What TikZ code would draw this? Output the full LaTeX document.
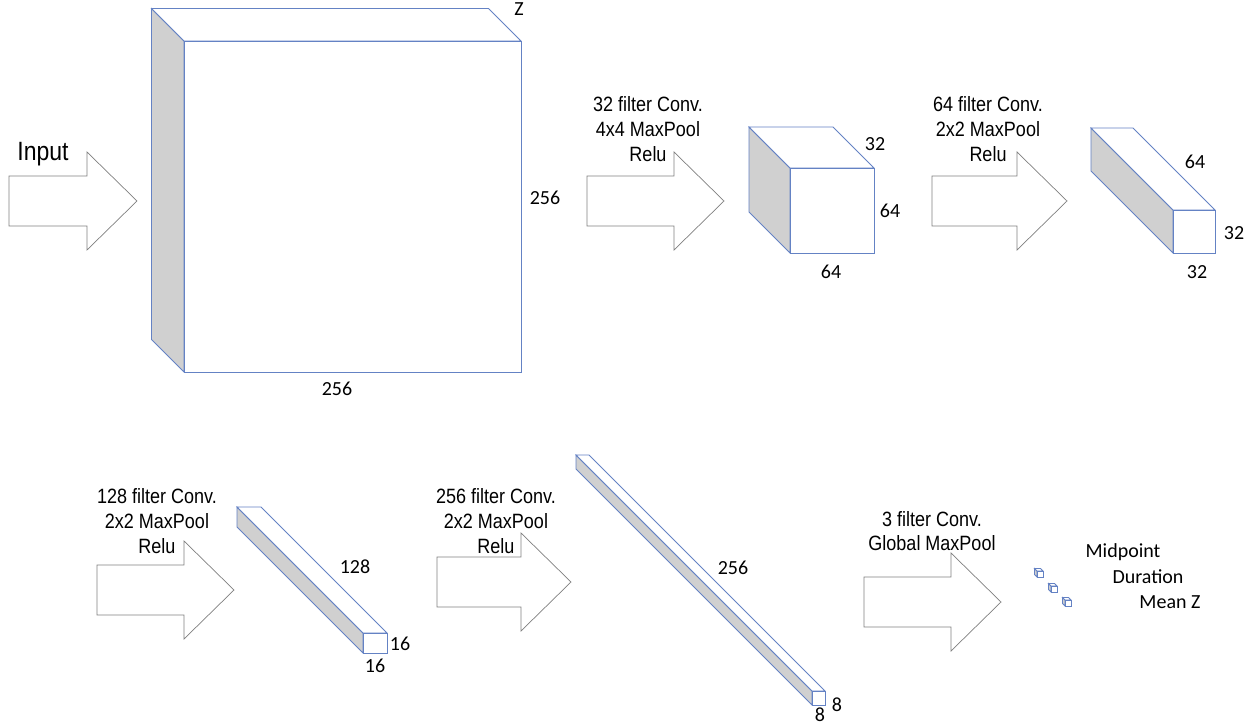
\documentclass[tikz,border=0pt]{standalone}
\usepackage{fontspec}
\setmainfont{Carlito}
\newfontfamily\arialf{Liberation Sans}
\usepackage{graphicx}
\definecolor{edgeblue}{HTML}{6482C4}
\definecolor{sidegray}{HTML}{D0D0D0}
\definecolor{arrgray}{HTML}{808080}
\newcommand{\tallt}[1]{\scalebox{1}[1.15]{#1}}
% cube: front face (x1,y1)-(x2,y2), depth d (towards upper left)
\newcommand{\mkcube}[5]{%
  \filldraw[cubeedge, fill=sidegray] (#1-#5,#2-#5) -- (#1,#2) -- (#1,#4) -- (#1-#5,#4-#5) -- cycle;
  \filldraw[cubeedge, fill=white] (#1-#5,#2-#5) -- (#3-#5,#2-#5) -- (#3,#2) -- (#1,#2) -- cycle;
  \filldraw[cubeedge, fill=white] (#1,#2) rectangle (#3,#4);
}
% block arrow: left x, centre y, tip x
\newcommand{\barrow}[3]{%
  \filldraw[blockarrow] (#1,#2-25) -- (#3-50,#2-25) -- (#3-50,#2-49) -- (#3,#2)
    -- (#3-50,#2+49) -- (#3-50,#2+25) -- (#1,#2+25) -- cycle;
}
\tikzset{
  cubeedge/.style={draw=edgeblue, line width=0.8pt, line join=miter},
  blockarrow/.style={draw=arrgray, fill=white, line width=0.7pt},
  num/.style={inner sep=0pt, font=\fontsize{20}{24}\selectfont},
  conv/.style={inner sep=0pt, anchor=base, font=\arialf\fontsize{18}{21}\selectfont},
}
\begin{document}
\begin{tikzpicture}[x=1pt, y=-1pt]
\useasboundingbox (0,0) rectangle (1256,727);
\fill[white] (0,0) rectangle (1256,727);

% ---- arrows ----
\barrow{9}{201}{137}
\barrow{587}{201}{724}
\barrow{932}{201}{1067}
\barrow{97}{590}{234}
\barrow{437}{582}{571}
\barrow{864}{602}{1001}

% ---- cubes ----
\mkcube{184}{41}{521}{372}{32.5}
\mkcube{790}{168}{874}{253}{41}
\mkcube{1173}{210}{1215}{253}{82}
\mkcube{363}{633}{387}{653}{126}
\mkcube{812}{691}{825}{705}{236}
\mkcube{1037}{571}{1043}{577}{2.5}
\mkcube{1051}{586}{1057}{592}{2.5}
\mkcube{1065}{600}{1071}{606}{2.5}

% ---- arrow labels ----
\node[conv, font=\arialf\fontsize{23}{26}\selectfont] (inp) at (43,161) {\tallt{Input}};

\node[conv] (a1l1) at (648,112) {\tallt{32 filter Conv.}};
\node[conv] (a1l2) at (648,137) {\tallt{4x4 MaxPool}};
\node[conv] (a1l3) at (648,162) {\tallt{Relu}};

\node[conv] (a2l1) at (988,112) {\tallt{64 filter Conv.}};
\node[conv] (a2l2) at (988,137) {\tallt{2x2 MaxPool}};
\node[conv] (a2l3) at (988,162) {\tallt{Relu}};

\node[conv] (a3l1) at (157,503) {\tallt{128 filter Conv.}};
\node[conv] (a3l2) at (157,528) {\tallt{2x2 MaxPool}};
\node[conv] (a3l3) at (157,553) {\tallt{Relu}};

\node[conv] (a4l1) at (496,503) {\tallt{256 filter Conv.}};
\node[conv] (a4l2) at (496,528) {\tallt{2x2 MaxPool}};
\node[conv] (a4l3) at (496,553) {\tallt{Relu}};

\node[conv] (a5l1) at (932,526) {\tallt{3 filter Conv.}};
\node[conv] (a5l2) at (932,550) {\tallt{Global MaxPool}};

% ---- dimension labels ----
\node[num] (z) at (519,9) {Z};
\node[num] (b1r) at (545,198) {256};
\node[num] (b1b) at (337,389) {256};

\node[num] (c2d) at (875,144) {32};
\node[num] (c2r) at (890,211) {64};
\node[num] (c2b) at (831,272) {64};

\node[num] (c3d) at (1195,162) {64};
\node[num] (c3r) at (1234,233) {32};
\node[num] (c3b) at (1197,272) {32};

\node[num] (c4d) at (355,567) {128};
\node[num] (c4r) at (400,644) {16};
\node[num] (c4b) at (375,666) {16};

\node[num] (c5d) at (733,568) {256};
\node[num] (c5r) at (837,705) {8};
\node[num] (c5b) at (820,715) {8};

\node[num] (o1) at (1123,552) {Midpoint};
\node[num] (o2) at (1148,577) {Duration};
\node[num] (o3) at (1170,602) {Mean Z};
\end{tikzpicture}
\end{document}
